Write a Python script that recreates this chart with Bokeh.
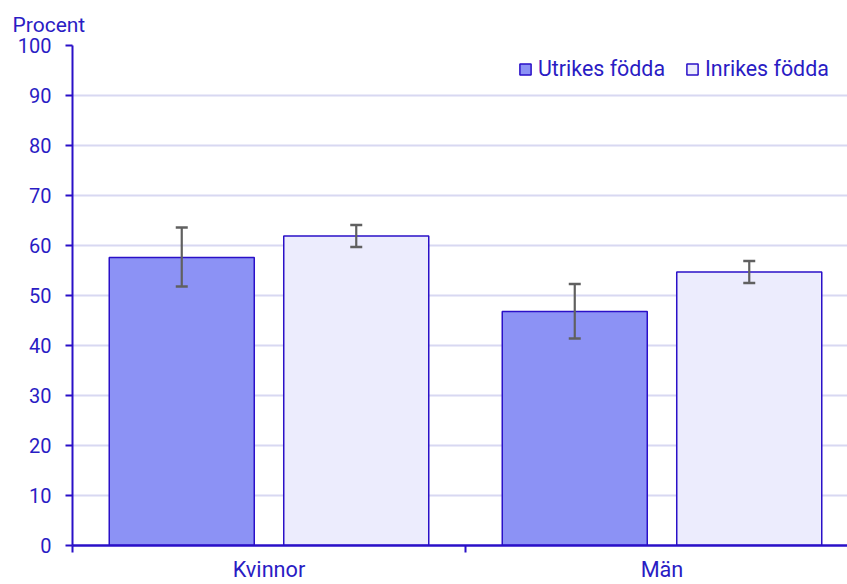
from bokeh.plotting import figure
from bokeh.models import (ColumnDataSource, FixedTicker, Whisker, Legend, LegendItem,
                          Range1d, Title)
from bokeh.embed import file_html
from bokeh.resources import INLINE

# ---- data ----
categories = ["Kvinnor", "Män"]
series_names = ["Utrikes födda", "Inrikes födda"]
utrikes = [57.6, 46.8]
utrikes_low = [51.8, 41.4]
utrikes_high = [63.6, 52.3]
inrikes = [61.9, 54.7]
inrikes_low = [59.7, 52.5]
inrikes_high = [64.1, 56.9]
y_ticks = [0, 10, 20, 30, 40, 50, 60, 70, 80, 90, 100]

TEXT = "#2a1cc4"
AXIS = "#2a10c8"
FONT = "Roboto"
FS = "21.7px"

offset = 0.222
bar_w = 0.369
idx = list(range(len(categories)))

src_u = ColumnDataSource(dict(x=[i + 0.5 - offset for i in idx], top=utrikes,
                              low=utrikes_low, high=utrikes_high))
src_i = ColumnDataSource(dict(x=[i + 0.5 + offset for i in idx], top=inrikes,
                              low=inrikes_low, high=inrikes_high))

p = figure(width=847, height=584, output_backend="svg", toolbar_location=None,
           x_range=Range1d(0, 1.972), y_range=Range1d(0, 100),
           min_border_left=72, min_border_right=0, min_border_top=45,
           min_border_bottom=38)
p.outline_line_color = None
p.background_fill_color = "white"

r_u = p.vbar(x="x", top="top", width=bar_w, source=src_u, fill_color="#8c92f5",
             line_color=AXIS, line_width=1.5)
r_i = p.vbar(x="x", top="top", width=bar_w, source=src_i, fill_color="#ececfd",
             line_color=AXIS, line_width=1.5)

for src in (src_u, src_i):
    w = Whisker(base="x", upper="high", lower="low", source=src,
                line_color="#606060", line_width=2.2, level="overlay")
    w.upper_head.line_color = "#606060"
    w.lower_head.line_color = "#606060"
    w.upper_head.line_width = 2.5
    w.lower_head.line_width = 2.5
    w.upper_head.size = 12
    w.lower_head.size = 12
    p.add_layout(w)

# x axis
p.xaxis.ticker = FixedTicker(ticks=[i + 0.5 for i in idx], minor_ticks=[0, 1, 2])
p.xaxis.major_label_overrides = {i + 0.5: c for i, c in zip(idx, categories)}
p.xaxis.major_tick_out = 0
p.xaxis.major_tick_in = 0
p.xaxis.minor_tick_out = 7
p.xaxis.minor_tick_in = 0
p.xaxis.minor_tick_line_color = AXIS
p.xaxis.minor_tick_line_width = 2
p.xaxis.axis_line_color = AXIS
p.xaxis.axis_line_width = 2.5
p.xaxis.major_label_standoff = 4
p.xaxis.major_label_text_font = FONT
p.xaxis.major_label_text_font_size = FS
p.xaxis.major_label_text_color = TEXT
p.xgrid.grid_line_color = None

# y axis
p.yaxis.ticker = FixedTicker(ticks=y_ticks)
p.yaxis.minor_tick_line_color = None
p.yaxis.major_tick_out = 7
p.yaxis.major_tick_in = 0
p.yaxis.major_tick_line_color = AXIS
p.yaxis.major_tick_line_width = 2
p.yaxis.axis_line_color = AXIS
p.yaxis.axis_line_width = 2
p.yaxis.major_label_standoff = 14
p.yaxis.major_label_text_font = FONT
p.yaxis.major_label_text_font_size = "20px"
p.yaxis.major_label_text_color = TEXT
p.ygrid.grid_line_color = "#d8d8f2"
p.ygrid.grid_line_width = 2

# title
p.title = Title(text="Procent", align="left", offset=-60, text_font=FONT,
                text_font_size="21px", text_color=TEXT, text_font_style="normal",
                standoff=18)

legend = Legend(items=[LegendItem(label=series_names[0], renderers=[r_u]),
                       LegendItem(label=series_names[1], renderers=[r_i])],
                location=(446, 464), orientation="horizontal",
                glyph_width=14, glyph_height=14, label_standoff=6, spacing=20,
                padding=0, margin=0, border_line_alpha=0,
                background_fill_alpha=0, label_text_font=FONT,
                label_text_font_size="21.4px", label_text_color=TEXT)
p.add_layout(legend)

open("out.html", "w").write(file_html(p, INLINE))
